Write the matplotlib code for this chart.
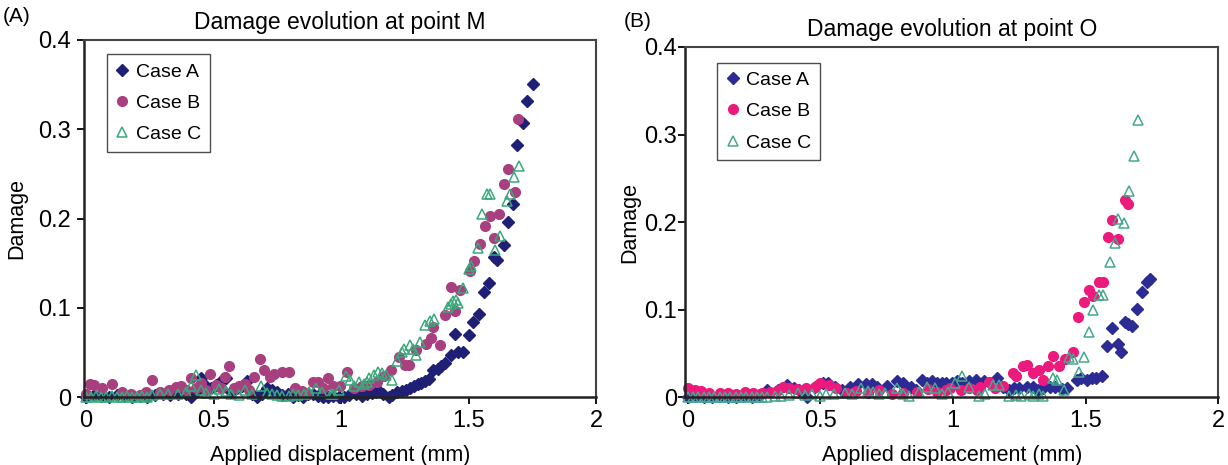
import matplotlib
matplotlib.use("Agg")
import matplotlib.pyplot as plt
from matplotlib.ticker import FuncFormatter

plt.rcParams['font.family'] = ['Liberation Sans', 'DejaVu Sans']

# Damage evolution at point M (panel A)
xA_M = [0.00, 0.03, 0.06, 0.09, 0.12, 0.15, 0.18, 0.21, 0.24, 0.27, 0.30, 0.33, 0.36, 0.39, 0.41, 0.43,
        0.45, 0.47, 0.49, 0.51, 0.53, 0.55, 0.57, 0.59, 0.61, 0.63, 0.65, 0.67, 0.69, 0.71, 0.73, 0.75,
        0.77, 0.79, 0.81, 0.83, 0.85, 0.87, 0.89, 0.91, 0.93, 0.95, 0.97, 0.99, 1.01, 1.03, 1.06,
        1.08, 1.10, 1.12, 1.135, 1.15, 1.165, 1.187, 1.20, 1.22, 1.24, 1.254, 1.27, 1.287, 1.30, 1.313,
        1.33, 1.346, 1.36, 1.38, 1.39, 1.406, 1.429, 1.446, 1.46, 1.476, 1.502, 1.518, 1.542, 1.562,
        1.578, 1.60, 1.611, 1.64, 1.653, 1.675, 1.69, 1.714, 1.727, 1.754]
yA_M = [0.000, 0.002, 0.001, 0.000, 0.002, 0.001, 0.000, 0.001, 0.000, 0.002, 0.003, 0.002, 0.004, 0.003,
        0.000, 0.006, 0.021, 0.012, 0.010, 0.014, 0.018, 0.021, 0.006, 0.010, 0.012, 0.018, 0.003, 0.000,
        0.004, 0.010, 0.008, 0.006, 0.002, 0.004, 0.000, 0.002, 0.000, 0.003, 0.004, 0.001, 0.000, 0.000,
        0.001, 0.000, 0.000, 0.002, 0.003,
        0.001, 0.003, 0.005, 0.006, 0.007, 0.004, 0.000, 0.002, 0.006, 0.007, 0.008, 0.010, 0.013, 0.015,
        0.016, 0.018, 0.020, 0.030, 0.032, 0.035, 0.038, 0.047, 0.071, 0.051, 0.050, 0.070, 0.084, 0.093,
        0.118, 0.128, 0.157, 0.154, 0.170, 0.196, 0.216, 0.282, 0.307, 0.332, 0.351]

xB_M = [0.00, 0.016, 0.03, 0.062, 0.10, 0.14, 0.175, 0.21, 0.234, 0.257, 0.29, 0.327, 0.353, 0.373, 0.393,
        0.413, 0.43, 0.45, 0.47, 0.486, 0.51, 0.53, 0.545, 0.562, 0.58, 0.60, 0.625, 0.64, 0.657, 0.681,
        0.697, 0.72, 0.735, 0.77, 0.795, 0.82, 0.845, 0.87, 0.889, 0.909, 0.93, 0.948, 0.97, 0.996, 1.023,
        1.05, 1.08, 1.11, 1.14, 1.17, 1.194, 1.227, 1.25, 1.267, 1.294, 1.333, 1.353, 1.36, 1.386, 1.406,
        1.429, 1.446, 1.466, 1.505, 1.522, 1.545, 1.565, 1.582, 1.60, 1.617, 1.64, 1.655, 1.68, 1.693]
yB_M = [0.003, 0.015, 0.014, 0.010, 0.015, 0.006, 0.004, 0.002, 0.006, 0.019, 0.006, 0.008, 0.011, 0.012,
        0.008, 0.021, 0.010, 0.016, 0.008, 0.026, 0.014, 0.010, 0.023, 0.035, 0.010, 0.013, 0.015, 0.008,
        0.023, 0.043, 0.030, 0.023, 0.026, 0.028, 0.028, 0.010, 0.007, 0.004, 0.017, 0.017, 0.010, 0.021,
        0.013, 0.013, 0.028, 0.010, 0.012, 0.014, 0.017, 0.024, 0.030, 0.045, 0.036, 0.036, 0.053, 0.060,
        0.066, 0.078, 0.058, 0.092, 0.123, 0.096, 0.120, 0.141, 0.153, 0.172, 0.192, 0.203, 0.178, 0.205,
        0.239, 0.255, 0.230, 0.311]

xC_M = [0.00, 0.02, 0.04, 0.06, 0.08, 0.10, 0.12, 0.14, 0.16, 0.18, 0.20, 0.22, 0.24, 0.26, 0.29, 0.32,
        0.36, 0.39, 0.41, 0.432, 0.45, 0.47, 0.50, 0.52, 0.55, 0.57, 0.60, 0.625, 0.65, 0.684, 0.71, 0.73,
        0.75, 0.77, 0.795, 0.81, 0.83, 0.855, 0.876, 0.90, 0.925, 0.96, 0.97, 0.99, 1.02, 1.035, 1.05,
        1.07, 1.09, 1.10, 1.11, 1.13, 1.145, 1.16, 1.175, 1.20, 1.22, 1.24, 1.248, 1.27, 1.28, 1.294,
        1.31, 1.327, 1.35, 1.366, 1.419, 1.43, 1.44, 1.452, 1.459, 1.478, 1.50, 1.51, 1.536, 1.552, 1.57,
        1.585, 1.605, 1.624, 1.65, 1.661, 1.677, 1.697]
yC_M = [0.000, 0.000, 0.001, 0.000, 0.000, 0.001, 0.000, 0.000, 0.001, 0.000, 0.000, 0.001, 0.000, 0.002,
        0.004, 0.004, 0.003, 0.006, 0.013, 0.025, 0.008, 0.005, 0.003, 0.009, 0.007, 0.003, 0.002, 0.008,
        0.004, 0.012, 0.005, 0.003, 0.002, 0.001, 0.001, 0.003, 0.002, 0.004, 0.006, 0.010, 0.006, 0.003,
        0.003, 0.008, 0.024, 0.019, 0.013, 0.017, 0.015, 0.017, 0.021, 0.025, 0.028, 0.027, 0.025, 0.019,
        0.040, 0.050, 0.054, 0.058, 0.054, 0.047, 0.062, 0.081, 0.085, 0.088, 0.101, 0.104, 0.108, 0.109,
        0.105, 0.122, 0.144, 0.147, 0.167, 0.205, 0.228, 0.228, 0.165, 0.180, 0.220, 0.228, 0.246, 0.259]

# Damage evolution at point O (panel B)
xA_O = [0.00, 0.03, 0.06, 0.09, 0.12, 0.15, 0.18, 0.21, 0.24, 0.27, 0.30, 0.34, 0.373, 0.40, 0.42, 0.45,
        0.48, 0.509, 0.53, 0.555, 0.58, 0.61, 0.64, 0.67, 0.695, 0.715, 0.75, 0.787, 0.81, 0.84, 0.86,
        0.884, 0.90, 0.92, 0.94, 0.96, 0.975, 0.995, 1.015, 1.035, 1.06, 1.087, 1.115, 1.14, 1.165, 1.19,
        1.21, 1.23, 1.25, 1.28, 1.30, 1.32, 1.34, 1.365, 1.385, 1.41, 1.43, 1.466, 1.484, 1.504, 1.523,
        1.54, 1.56, 1.579, 1.598, 1.624, 1.635, 1.65, 1.659, 1.674, 1.692, 1.711, 1.73, 1.744]
yA_O = [0.000, 0.001, 0.000, 0.000, 0.001, 0.000, 0.000, 0.001, 0.000, 0.002, 0.008, 0.008, 0.014, 0.010,
        0.008, 0.000, 0.012, 0.016, 0.016, 0.011, 0.008, 0.012, 0.015, 0.015, 0.015, 0.011, 0.013, 0.018,
        0.016, 0.011, 0.008, 0.020, 0.016, 0.018, 0.016, 0.016, 0.016, 0.016, 0.018, 0.016, 0.018, 0.019,
        0.018, 0.016, 0.022, 0.012, 0.008, 0.010, 0.010, 0.012, 0.012, 0.008, 0.010, 0.012, 0.012, 0.009,
        0.010, 0.020, 0.022, 0.020, 0.022, 0.022, 0.024, 0.058, 0.079, 0.061, 0.052, 0.086, 0.084, 0.081,
        0.101, 0.120, 0.132, 0.135]

xB_O = [0.00, 0.025, 0.05, 0.08, 0.12, 0.15, 0.18, 0.215, 0.245, 0.28, 0.31, 0.34, 0.36, 0.38, 0.41,
        0.445, 0.48, 0.50, 0.534, 0.56, 0.60, 0.635, 0.68, 0.72, 0.77, 0.81, 0.865, 0.905, 0.94, 0.975,
        0.99, 1.03, 1.06, 1.09, 1.10, 1.135, 1.16, 1.19, 1.226, 1.236, 1.263, 1.278, 1.30, 1.323, 1.338,
        1.36, 1.376, 1.40, 1.421, 1.451, 1.47, 1.493, 1.514, 1.529, 1.549, 1.564, 1.586, 1.60, 1.624,
        1.647, 1.659]
yB_O = [0.010, 0.008, 0.007, 0.005, 0.005, 0.005, 0.004, 0.006, 0.005, 0.005, 0.006, 0.008, 0.011, 0.010,
        0.009, 0.010, 0.012, 0.016, 0.014, 0.010, 0.005, 0.007, 0.005, 0.008, 0.003, 0.005, 0.006, 0.009,
        0.006, 0.008, 0.010, 0.008, 0.010, 0.008, 0.012, 0.017, 0.010, 0.013, 0.027, 0.024, 0.035, 0.037,
        0.027, 0.031, 0.020, 0.035, 0.047, 0.035, 0.044, 0.051, 0.092, 0.109, 0.122, 0.115, 0.132, 0.132,
        0.183, 0.202, 0.181, 0.225, 0.221]

xC_O = [0.00, 0.02, 0.04, 0.06, 0.08, 0.10, 0.12, 0.14, 0.16, 0.18, 0.20, 0.22, 0.24, 0.26, 0.28, 0.30,
        0.33, 0.353, 0.38, 0.414, 0.44, 0.47, 0.50, 0.52, 0.55, 0.594, 0.62, 0.654, 0.68, 0.70, 0.72,
        0.744, 0.79, 0.81, 0.835, 0.87, 0.90, 0.932, 0.96, 0.982, 1.008, 1.035, 1.06, 1.098, 1.12, 1.15,
        1.173, 1.21, 1.236, 1.256, 1.286, 1.30, 1.323, 1.338, 1.376, 1.391, 1.418, 1.436, 1.451, 1.474,
        1.493, 1.511, 1.529, 1.549, 1.567, 1.591, 1.609, 1.624, 1.644, 1.662, 1.681, 1.696]
yC_O = [0.000, 0.000, 0.000, 0.000, 0.000, 0.000, 0.000, 0.000, 0.000, 0.000, 0.000, 0.000, 0.000, 0.000,
        0.000, 0.000, 0.001, 0.001, 0.002, 0.005, 0.002, 0.003, 0.001, 0.004, 0.003, 0.005, 0.003, 0.010,
        0.007, 0.006, 0.004, 0.005, 0.010, 0.003, 0.001, 0.006, 0.012, 0.010, 0.004, 0.006, 0.016, 0.024,
        0.012, 0.001, 0.004, 0.014, 0.014, 0.001, 0.002, 0.001, 0.003, 0.001, 0.003, 0.001, 0.022, 0.020,
        0.008, 0.046, 0.043, 0.029, 0.046, 0.074, 0.099, 0.117, 0.117, 0.154, 0.176, 0.204, 0.199, 0.235,
        0.276, 0.316]

case_labels = ['Case A', 'Case B', 'Case C']
x_ticks = [0, 0.5, 1, 1.5, 2]
y_ticks = [0, 0.1, 0.2, 0.3, 0.4]


def draw_panel(ax, series, colors, title, legend_anchor, ypad, ylabelpad):
    (xa, ya), (xb, yb), (xc, yc) = series
    ax.plot(xa, ya, linestyle='none', marker='D', markersize=6.3,
            color=colors[0], label=case_labels[0], clip_on=False)
    ax.plot(xb, yb, linestyle='none', marker='o', markersize=7,
            color=colors[1], label=case_labels[1], clip_on=False)
    ax.plot(xc, yc, linestyle='none', marker='^', markersize=7.5, markerfacecolor='none',
            markeredgewidth=1.1, color=colors[2], label=case_labels[2], clip_on=False)

    ax.set_xlim(-0.01, 2)
    ax.set_ylim(0, 0.4)
    ax.set_xticks(x_ticks)
    ax.set_yticks(y_ticks)
    fmt = FuncFormatter(lambda v, p: '%g' % v)
    ax.xaxis.set_major_formatter(fmt)
    ax.yaxis.set_major_formatter(fmt)
    ax.tick_params(labelsize=17, length=5, width=1.3, direction='out')
    ax.tick_params(axis='x', pad=4)
    ax.tick_params(axis='y', pad=ypad)

    for side in ['left', 'bottom']:
        ax.spines[side].set_linewidth(1.8)
        ax.spines[side].set_color('#222222')
    for side in ['top', 'right']:
        ax.spines[side].set_linewidth(1.5)
        ax.spines[side].set_color('#444444')

    ax.set_xlabel('Applied displacement (mm)', fontsize=15.5, labelpad=10)
    ax.set_ylabel('Damage', fontsize=15.5, labelpad=ylabelpad)
    ax.set_title(title, fontsize=16.5, pad=8)

    leg = ax.legend(loc='upper left', bbox_to_anchor=legend_anchor, fontsize=14,
                    frameon=True, fancybox=False, borderaxespad=0, handlelength=0.7,
                    handletextpad=0.35, labelspacing=0.7, borderpad=0.45)
    leg.get_frame().set_edgecolor('#222222')
    leg.get_frame().set_linewidth(1.0)


def main():
    fig = plt.figure(figsize=(12.28, 4.65), dpi=100)
    ax1 = fig.add_axes([0.068, 0.146, 0.4175, 0.768])
    ax2 = fig.add_axes([0.558, 0.146, 0.434, 0.753])

    draw_panel(ax1, [(xA_M, yA_M), (xB_M, yB_M), (xC_M, yC_M)],
               ['#1f1f75', '#a8407f', '#3aa97a'],
               'Damage evolution at point M', (0.045, 0.96), 4, 8)
    draw_panel(ax2, [(xA_O, yA_O), (xB_O, yB_O), (xC_O, yC_O)],
               ['#2b2b93', '#ec1a7c', '#45a88d'],
               'Damage evolution at point O', (0.06, 0.955), 1, 3)

    fig.text(0.002, 0.985, '(A)', fontsize=15, va='top', ha='left')
    fig.text(0.508, 0.975, '(B)', fontsize=15, va='top', ha='left')

    fig.savefig('out.png', dpi=100)


if __name__ == "__main__":
    main()
